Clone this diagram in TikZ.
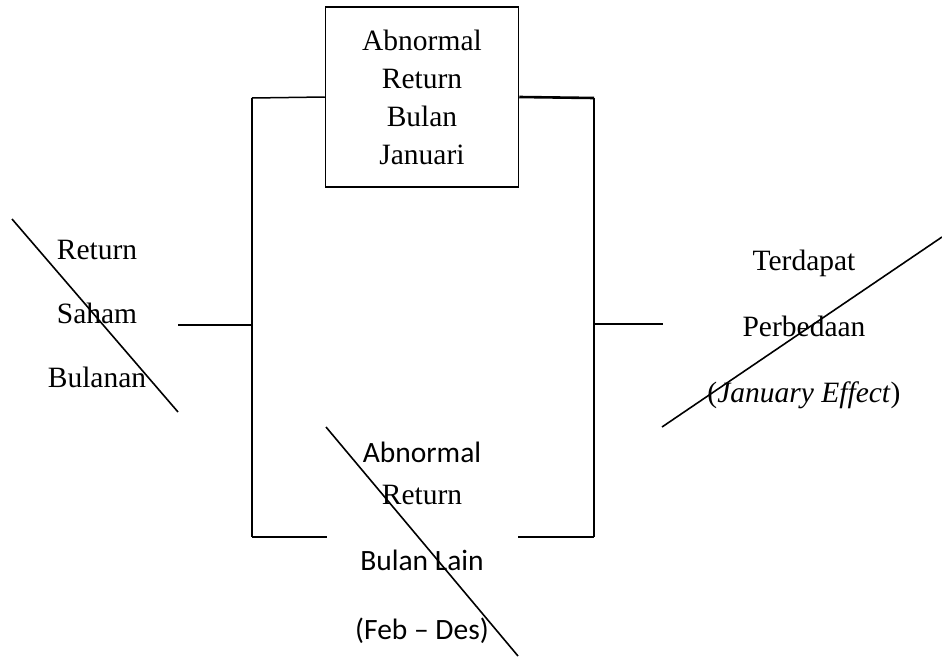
\documentclass[tikz,border=0pt]{standalone}
\usepackage{fontspec}
\setmainfont{Liberation Serif}
\newfontfamily\calibri{Carlito}
\begin{document}
\begin{tikzpicture}[x=1pt, y=-1pt,
	wire/.style={line width=1.5pt},
	bar/.style={line width=2.6pt},
	strike/.style={line width=1.6pt},
	txt/.style={align=center, inner sep=0pt}]
	\useasboundingbox (0,0) rectangle (942,656);

	% boxes and labels
	\node [txt, draw, line width=1.5pt, minimum width=193pt, minimum height=180pt,
		font=\fontsize{29.5}{38}\selectfont] (jan) at (422,97)
		{Abnormal\\Return\\Bulan\\Januari};
	\node [txt, font=\fontsize{29.5}{64}\selectfont] (saham) at (97,314)
		{Return\\Saham\\Bulanan};
	\node [txt, font=\fontsize{29.5}{66}\selectfont] (beda) at (804,329)
		{Terdapat\\Perbedaan\\(\textit{January Effect})};
	\node [txt, font=\fontsize{29.5}{42}\selectfont] (lain) at (422,543)
		{{\calibri Abnormal}\\Return\\[24pt]{\calibri Bulan Lain}\\[27pt]{\calibri (Feb – Des)}};

	\coordinate (TL) at (252,98);
	\coordinate (BL) at (252,537);
	\coordinate (TR) at (594,98);
	\coordinate (BR) at (594,537);
	\coordinate (GL) at (327,537);
	\coordinate (GR) at (518,537);
	\coordinate (LS) at (178,325);
	\coordinate (LM) at (252,325);
	\coordinate (RM) at (594,324);
	\coordinate (RS) at (663,324);

	\draw [bar] (TL) -- (BL);
	\draw [bar] (TR) -- (BR);
	\draw [wire] (TL) -- (jan.west);
	\draw [bar] (jan.east) -- (TR);
	\draw [bar] (BL) -- (GL);
	\draw [bar] (GR) -- (BR);
	\draw [wire] (LS) -- (LM);
	\draw [wire] (RM) -- (RS);

	% strike lines
	\coordinate (A) at (12,219);
	\coordinate (B) at (178,412);
	\coordinate (C) at (662,427);
	\coordinate (D) at (942,237);
	\coordinate (E) at (326,427);
	\coordinate (F) at (518,656);
	\draw [strike] (A) -- (B);
	\draw [strike] (C) -- (D);
	\draw [strike] (E) -- (F);

\end{tikzpicture}
\end{document}
